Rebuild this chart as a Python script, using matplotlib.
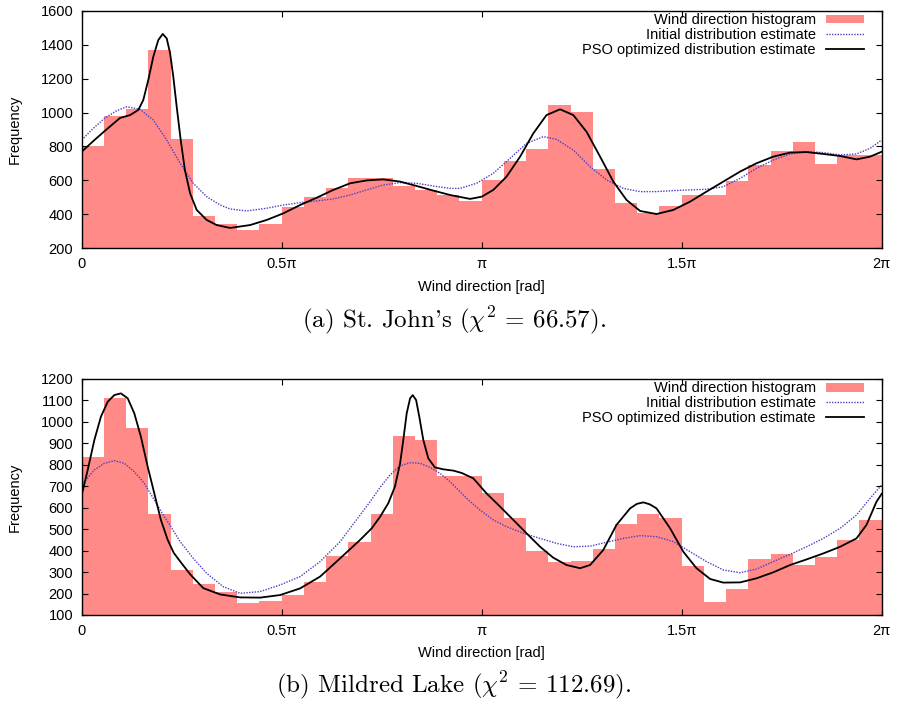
import numpy as np
import matplotlib
matplotlib.use('Agg')
import matplotlib.pyplot as plt

plt.rcParams['font.family'] = ['Liberation Sans', 'DejaVu Sans']
plt.rcParams['mathtext.fontset'] = 'cm'

# Histogram counts, 36 bins of 10 degrees each
stjohns_hist = [800, 980, 1020, 1368, 844, 390, 341, 308, 343, 443, 500, 555,
                612, 612, 569, 544, 514, 481, 603, 714, 785, 1044, 1003, 667,
                467, 410, 449, 514, 514, 597, 691, 773, 826, 699, 752, 752]
mildred_hist = [836, 1112, 972, 571, 310, 243, 206, 157, 165, 193, 254, 375,
                440, 571, 934, 916, 750, 748, 670, 552, 400, 349, 352, 409,
                524, 571, 552, 330, 162, 221, 361, 384, 333, 370, 451, 544]

# St. John's curves (angle in units of pi, frequency)
sj_init_t = [0, 0.029, 0.057, 0.0875, 0.1125, 0.146, 0.179, 0.2125, 0.246,
             0.279, 0.3125, 0.346, 0.371, 0.4125, 0.4625, 0.504, 0.546,
             0.5875, 0.629, 0.671, 0.7125, 0.754, 0.796, 0.8375, 0.879, 0.921,
             0.946, 0.987, 1.029, 1.071, 1.112, 1.154, 1.187, 1.229, 1.271,
             1.312, 1.354, 1.396, 1.437, 1.479, 1.521, 1.562, 1.604, 1.646,
             1.687, 1.729, 1.771, 1.812, 1.854, 1.896, 1.937, 1.971, 2.0]
sj_init_f = [838, 907, 966, 1011, 1034, 1019, 956, 838, 701,
             583, 504, 455, 432, 420, 436, 455, 469,
             479, 491, 514, 544, 573, 587, 583, 567, 553,
             553, 583, 642, 730, 818, 858, 842, 779, 681,
             603, 553, 534, 534, 540, 544, 548, 563, 612,
             671, 720, 756, 769, 764, 750, 756, 789, 838]

sj_pso_t = [0, 0.029, 0.057, 0.0708, 0.0958, 0.121, 0.1415, 0.154, 0.1665,
            0.179, 0.1915, 0.2025, 0.2125, 0.221, 0.229, 0.2375, 0.2475,
            0.258, 0.271, 0.2875, 0.3125, 0.3375, 0.371, 0.421, 0.4625, 0.504,
            0.546, 0.5875, 0.629, 0.671, 0.7125, 0.754, 0.796, 0.8375, 0.879,
            0.921, 0.971, 1.0, 1.029, 1.062, 1.096, 1.129, 1.162, 1.196,
            1.229, 1.262, 1.296, 1.329, 1.362, 1.396, 1.437, 1.479, 1.521,
            1.562, 1.604, 1.646, 1.687, 1.729, 1.771, 1.812, 1.854, 1.896,
            1.937, 1.971, 2.0]
sj_pso_f = [769, 832, 890, 918, 968, 985, 1015, 1074, 1192,
            1329, 1427, 1463, 1437, 1349, 1211, 1034, 838,
            661, 524, 426, 367, 337, 320, 337, 367, 406,
            455, 498, 544, 583, 600, 606, 593, 567, 540,
            514, 491, 504, 544, 622, 740, 877, 985, 1019,
            985, 887, 740, 593, 485, 420, 402, 426, 475,
            534, 593, 652, 701, 740, 764, 767, 756, 744,
            724, 740, 769]

# Mildred Lake curves
ml_init_t = [0, 0.0317, 0.0565, 0.0815, 0.1065, 0.1315, 0.1565, 0.1815, 0.2065,
             0.223, 0.246, 0.279, 0.3125, 0.354, 0.396, 0.446, 0.496, 0.546,
             0.596, 0.646, 0.696, 0.721, 0.746, 0.771, 0.796, 0.821, 0.846,
             0.871, 0.896, 0.921, 0.946, 0.962, 0.996, 1.029, 1.062, 1.104,
             1.146, 1.187, 1.229, 1.271, 1.312, 1.354, 1.396, 1.437, 1.479,
             1.521, 1.562, 1.604, 1.646, 1.687, 1.729, 1.771, 1.812, 1.854,
             1.896, 1.937, 1.971, 2.0]
ml_init_f = [706, 776, 807, 819, 807, 768, 714, 636, 558,
             512, 442, 364, 294, 232, 201, 209, 240, 279,
             349, 442, 566, 628, 695, 753, 795, 810, 807,
             788, 760, 721, 674, 644, 589, 543, 512, 481,
             457, 434, 418, 421, 439, 457, 470, 465, 442,
             395, 349, 310, 297, 314, 349, 383, 418, 457,
             504, 566, 644, 706]

ml_pso_t = [0, 0.015, 0.0317, 0.048, 0.065, 0.0815, 0.098, 0.115, 0.1315,
            0.148, 0.165, 0.1815, 0.198, 0.215, 0.230, 0.246, 0.271, 0.304,
            0.346, 0.396, 0.446, 0.496, 0.546, 0.596, 0.646, 0.696, 0.725,
            0.746, 0.7665, 0.783, 0.796, 0.804, 0.8125, 0.821, 0.8275, 0.836,
            0.844, 0.854, 0.8665, 0.883, 0.904, 0.929, 0.950, 0.979, 1.012,
            1.046, 1.079, 1.112, 1.146, 1.179, 1.212, 1.246, 1.271, 1.304,
            1.337, 1.371, 1.388, 1.404, 1.420, 1.437, 1.471, 1.504, 1.537,
            1.571, 1.604, 1.646, 1.687, 1.729, 1.771, 1.812, 1.854, 1.896,
            1.937, 1.962, 1.987, 2.0]
ml_pso_f = [659, 776, 916, 1024, 1094, 1125, 1133, 1110, 1040,
            931, 791, 667, 543, 450, 390, 350, 290, 225,
            196, 182, 181, 193, 224, 279, 364, 450, 504,
            558, 621, 698, 807, 916, 1040, 1110, 1125, 1102,
            1024, 916, 830, 788, 779, 773, 762, 737, 667,
            605, 543, 481, 418, 367, 333, 318, 333, 403,
            520, 597, 618, 625, 616, 597, 504, 395, 318,
            268, 251, 252, 271, 299, 333, 359, 387, 418,
            457, 520, 628, 665]

xtick_labels = ['0', '0.5\u03c0', '\u03c0', '1.5\u03c0', '2\u03c0']
captions = ["(a) St. John's ($\\chi^2$ = 66.57).",
            "(b) Mildred Lake ($\\chi^2$ = 112.69)."]

bar_color = '#ff8a87'
blue = '#4a3fc4'

fig = plt.figure(figsize=(8.97, 7.01), dpi=100)
ax1 = fig.add_axes([81.7 / 897, 1 - 248.3 / 701, 800 / 897, 237.6 / 701])
ax2 = fig.add_axes([81.7 / 897, 1 - 615 / 701, 800 / 897, 236 / 701])

panels = [
    (ax1, stjohns_hist, sj_init_t, sj_init_f, sj_pso_t, sj_pso_f, (200, 1600), 200),
    (ax2, mildred_hist, ml_init_t, ml_init_f, ml_pso_t, ml_pso_f, (100, 1200), 100),
]

width = 2 * np.pi / 36
edges = np.arange(36) * width

for ax, hist, it, iv, pt, pv, ylim, step in panels:
    b = ax.bar(edges, hist, width=width, align='edge', color=bar_color,
               linewidth=0)
    l1, = ax.plot(np.array(it) * np.pi, iv, color=blue, lw=1.0,
                  linestyle=(0, (1, 1)))
    l2, = ax.plot(np.array(pt) * np.pi, pv, color='black', lw=1.3)
    ax.set_xlim(0, 2 * np.pi)
    ax.set_ylim(*ylim)
    ax.set_yticks(np.arange(ylim[0], ylim[1] + 1, step))
    ax.set_xticks(np.arange(5) * np.pi / 2)
    ax.set_xticklabels(xtick_labels)
    ax.tick_params(direction='in', top=True, right=True, length=4,
                   width=0.8, labelsize=10.5)
    ax.tick_params(axis='y', pad=6)
    ax.tick_params(axis='x', pad=6.5)
    for s in ax.spines.values():
        s.set_linewidth(1.0)
    ax.set_ylabel('Frequency', fontsize=10.5)
    ax.yaxis.set_label_coords(-0.075, 0.5)
    ax.set_xlabel('Wind direction [rad]', fontsize=10.5, labelpad=6)
    ax.legend([b, l1, l2],
              ['Wind direction histogram', 'Initial distribution estimate',
               'PSO optimized distribution estimate'],
              loc='upper right', bbox_to_anchor=(0.978, 0.99),
              frameon=False, markerfirst=False, fontsize=10.5,
              handlelength=2.6, handleheight=0.55, labelspacing=0.06,
              borderaxespad=0, borderpad=0, handletextpad=0.7)

fig.text(0.506, 1 - 320 / 701, captions[0],
         family='cmr10', fontsize=18, ha='center', va='center')
fig.text(0.506, 1 - 685 / 701, captions[1],
         family='cmr10', fontsize=18, ha='center', va='center')

fig.savefig('out.png', dpi=100)
